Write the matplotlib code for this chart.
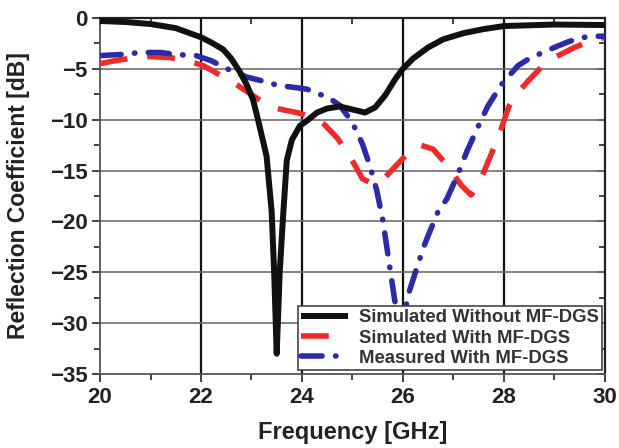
import matplotlib

matplotlib.use("Agg")

import matplotlib.pyplot as plt
from matplotlib.ticker import MultipleLocator

plt.rcParams["font.family"] = ["Liberation Sans", "DejaVu Sans"]

# Simulated without MF-DGS
freq_sim_without = [20.0, 20.5, 21.0, 21.5, 22.0, 22.2, 22.44, 22.6, 22.77, 22.9,
                    23.03, 23.13, 23.3, 23.4, 23.45, 23.5, 23.56, 23.62, 23.7, 23.8,
                    23.96, 24.1, 24.3, 24.5, 24.75, 25.0, 25.25, 25.45, 25.65, 25.85,
                    26.0, 26.2, 26.5, 26.8, 27.2, 27.6, 28.0, 29.0, 30.0]
s11_sim_without = [-0.3, -0.4, -0.6, -1.0, -1.9, -2.4, -3.1, -4.0, -5.3, -6.5,
                   -8.0, -10.0, -13.6, -19.0, -25.0, -33.0, -25.0, -20.0, -14.0, -12.0,
                   -10.6, -10.1, -9.3, -8.9, -8.7, -9.0, -9.3, -8.8, -7.6, -6.0,
                   -5.0, -4.0, -2.9, -2.1, -1.5, -1.1, -0.8, -0.65, -0.7]

# Simulated with MF-DGS
freq_sim_with = [20.0, 20.3, 20.7, 21.0, 21.4, 21.8, 22.05, 22.3, 22.6, 22.9,
                 23.2, 23.5, 23.9, 24.2, 24.45, 24.7, 24.95, 25.2, 25.4, 25.6,
                 25.85, 26.1, 26.35, 26.6, 26.9, 27.15, 27.35, 27.5, 27.65, 27.9,
                 28.1, 28.3, 28.5, 28.75, 29.0, 29.4, 29.7, 30.0]
s11_sim_with = [-4.5, -4.2, -3.9, -3.8, -3.9, -4.3, -4.7, -5.4, -6.2, -7.2,
                -8.2, -8.9, -9.3, -9.7, -10.5, -11.8, -13.6, -15.8, -16.3, -15.9,
                -14.6, -13.3, -12.5, -12.9, -14.6, -16.4, -17.4, -16.4, -14.6, -11.6,
                -8.7, -7.2, -6.1, -4.8, -3.9, -2.9, -2.3, -1.9]

# Measured with MF-DGS
freq_meas = [20.0, 20.4, 20.8, 21.2, 21.5, 21.9, 22.2, 22.4, 22.6, 22.9,
             23.3, 23.5, 23.8, 24.1, 24.35, 24.55, 24.75, 24.9, 25.05, 25.2,
             25.35, 25.48, 25.6, 25.72, 25.84, 25.97, 26.1, 26.28, 26.42, 26.55,
             26.7, 26.87, 27.07, 27.27, 27.47, 27.68, 27.96, 28.28, 28.5, 28.77,
             29.05, 29.3, 29.6, 29.84, 30.0]
s11_meas = [-3.7, -3.6, -3.4, -3.4, -3.6, -3.7, -4.2, -4.7, -5.2, -5.8,
            -6.3, -6.6, -6.8, -7.0, -7.5, -7.9, -8.6, -9.6, -10.8, -12.4,
            -14.6, -16.9, -19.8, -23.8, -27.8, -31.0, -27.3, -24.5, -22.4, -20.8,
            -19.0, -17.8, -15.6, -13.1, -10.9, -8.7, -6.5, -4.7, -4.0, -3.4,
            -2.8, -2.3, -1.9, -1.8, -1.8]

fig = plt.figure(figsize=(6.19, 4.48), dpi=100)
ax = fig.add_axes([0.1616, 0.165, 0.8154, 0.795])

ax.plot(freq_sim_without, s11_sim_without, color="#111111", lw=4.3,
        solid_joinstyle="round", solid_capstyle="butt",
        label="Simulated Without MF-DGS", zorder=4)
ax.plot(freq_sim_with, s11_sim_with, color="#ee2b2b", lw=4.0,
        dashes=(5, 3.6), label="Simulated With MF-DGS", zorder=3)
ax.plot(freq_meas, s11_meas, color="#2b2ba8", lw=4.0,
        dashes=(3.8, 2.4, 0.1, 2.4), dash_capstyle="round",
        label="Measured With MF-DGS", zorder=3)

ax.set_xlim(20, 30)
ax.set_ylim(-35, 0)
ax.xaxis.set_major_locator(MultipleLocator(2))
ax.xaxis.set_minor_locator(MultipleLocator(1))
ax.yaxis.set_major_locator(MultipleLocator(5))
ax.yaxis.set_minor_locator(MultipleLocator(2.5))

for x in [22, 24, 26, 28]:
    ax.axvline(x, color="#111111", lw=1.6, zorder=1)
for y in [-5, -10, -15, -20, -25, -30]:
    ax.axhline(y, color="#6e6e6e", lw=1.2, zorder=1)

for side in ["left", "bottom"]:
    ax.spines[side].set_color("#555555")
    ax.spines[side].set_linewidth(1.3)
for side in ["top", "right"]:
    ax.spines[side].set_color("#222222")
    ax.spines[side].set_linewidth(1.6)

ax.tick_params(axis="both", which="both", direction="out", top=False, right=False,
               color="#333333", width=1.3)
ax.tick_params(which="major", length=6, labelsize=16, pad=3)
ax.tick_params(which="minor", length=4)
for lab in ax.get_xticklabels() + ax.get_yticklabels():
    lab.set_fontweight("bold")
    lab.set_color("#222222")

# inward ticks on top and right
ax_top = ax.secondary_xaxis("top")
ax_top.xaxis.set_major_locator(MultipleLocator(2))
ax_top.xaxis.set_minor_locator(MultipleLocator(1))
ax_top.tick_params(which="both", direction="in", labeltop=False, color="#333333", width=1.3)
ax_top.tick_params(which="major", length=6)
ax_top.tick_params(which="minor", length=4)
ax_top.spines["top"].set_visible(False)
ax_right = ax.secondary_yaxis("right")
ax_right.yaxis.set_major_locator(MultipleLocator(5))
ax_right.yaxis.set_minor_locator(MultipleLocator(2.5))
ax_right.tick_params(which="both", direction="in", labelright=False, color="#333333", width=1.3)
ax_right.tick_params(which="major", length=6)
ax_right.tick_params(which="minor", length=4)
ax_right.spines["right"].set_visible(False)

ax.set_xlabel("Frequency [GHz]", fontsize=17, fontweight="bold", color="#222222", labelpad=10)
ax.set_ylabel("Reflection Coefficient [dB]", fontsize=16.5, fontweight="bold", color="#222222", labelpad=14)

leg = ax.legend(loc="lower right", bbox_to_anchor=(0.995, 0.011), fontsize=13.3,
                frameon=True, fancybox=False, framealpha=1, edgecolor="#444444",
                handlelength=2.55, handletextpad=0.6, labelspacing=0.18,
                borderpad=0.18, borderaxespad=0)
leg.get_frame().set_linewidth(1.2)
leg.set_zorder(10)
for t in leg.get_texts():
    t.set_fontweight("bold")
    t.set_color("#333333")

fig.savefig("out.png", dpi=100)
